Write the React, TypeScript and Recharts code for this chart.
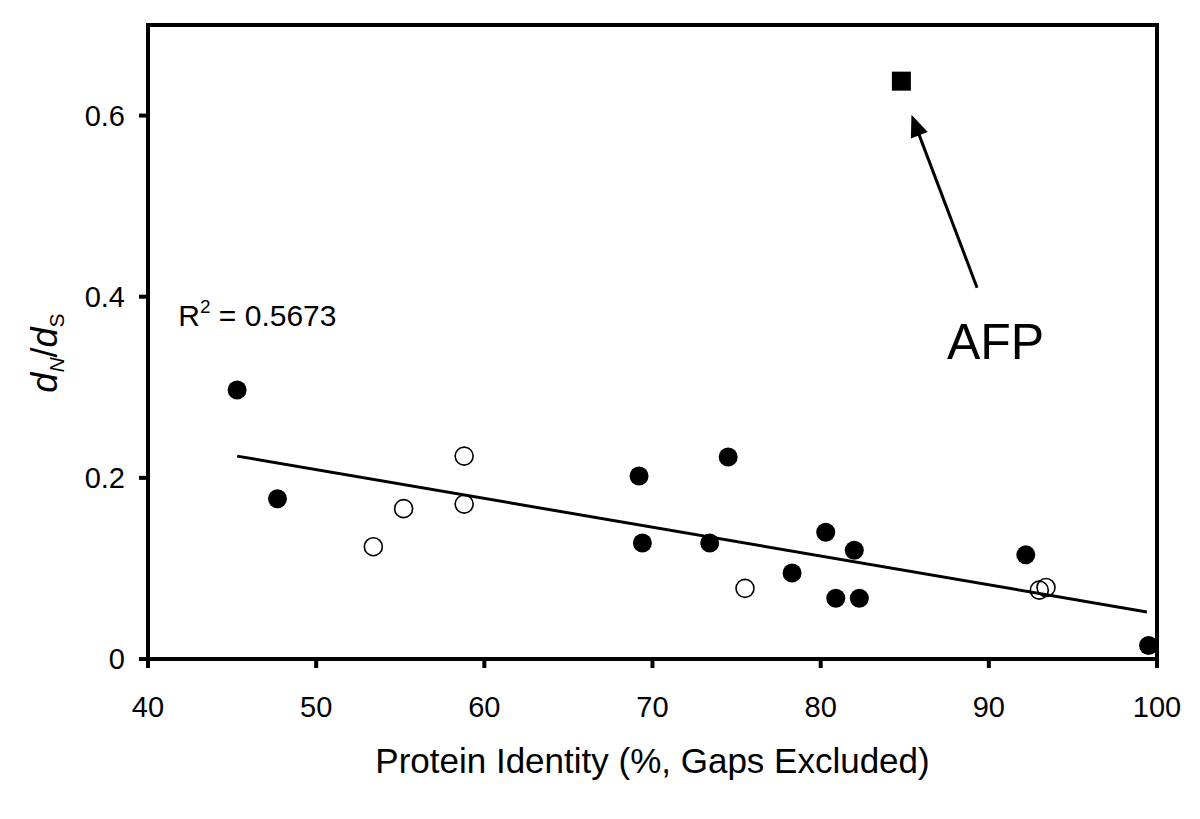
import React from 'react';
import { ScatterChart, Scatter, XAxis, YAxis, ReferenceArea, ReferenceLine, ReferenceDot } from 'recharts';

const FONT = '"Liberation Sans", Arial, Helvetica, sans-serif';

// Filled circles (protein identity %, dN/dS)
const filledX = [45.3, 47.7, 69.2, 69.4, 73.4, 74.5, 78.3, 80.3, 80.9, 82.0, 82.3, 92.2, 99.5];
const filledY = [0.297, 0.177, 0.202, 0.128, 0.128, 0.223, 0.095, 0.140, 0.067, 0.120, 0.067, 0.115, 0.015];
// Open circles
const openX = [53.4, 55.2, 58.8, 58.8, 75.5, 93.0, 93.4];
const openY = [0.124, 0.166, 0.224, 0.171, 0.078, 0.076, 0.079];
// AFP (square)
const afpX = [84.8];
const afpY = [0.638];
// Regression line end points
const trendX = [45.3, 99.4];
const trendY = [0.224, 0.052];
// Arrow from label to AFP point
const arrowFrom = { x: 89.3, y: 0.41 };
const arrowTo = { x: 85.4, y: 0.601 };
const afpLabelPos = { x: 90.4, y: 0.35 };
const r2LabelPos = { x: 41.8, y: 0.38 };

const xTicks = [40, 50, 60, 70, 80, 90, 100];
const yTicks = [0, 0.2, 0.4, 0.6];

const zip = (xs: number[], ys: number[]) => xs.map((x, i) => ({ x, y: ys[i] }));
const filled = zip(filledX, filledY);
const open = zip(openX, openY);
const afp = zip(afpX, afpY);
const trend = zip(trendX, trendY);

const FilledDot = (p: any) => <circle cx={p.cx} cy={p.cy} r={9.5} fill="#000" />;
const OpenDot = (p: any) => <circle cx={p.cx} cy={p.cy} r={9} fill="none" stroke="#000" strokeWidth={1.6} />;
const SquareDot = (p: any) => <rect x={p.cx - 9.5} y={p.cy - 9.5} width={19} height={19} fill="#000" />;
const NoDot = () => <g />;

const ArrowShape = (p: any) => {
  const { x1, y1, x2, y2 } = p;
  const dx = x2 - x1, dy = y2 - y1;
  const len = Math.sqrt(dx * dx + dy * dy);
  const ux = dx / len, uy = dy / len;
  const hl = 22, hw = 9;
  const bx = x2 - ux * hl, by = y2 - uy * hl;
  const pts = `${x2},${y2} ${bx - uy * hw},${by + ux * hw} ${bx + uy * hw},${by - ux * hw}`;
  return (
    <g>
      <line x1={x1} y1={y1} x2={bx + ux * 2} y2={by + uy * 2} stroke="#000" strokeWidth={3} />
      <polygon points={pts} fill="#000" />
    </g>
  );
};

const AfpText = (p: any) => (
  <text x={p.cx} y={p.cy} textAnchor="middle" dominantBaseline="central" fontSize={50} fontFamily={FONT} fill="#000">AFP</text>
);

const R2Text = (p: any) => (
  <text x={p.cx} y={p.cy + 11} textAnchor="start" fontSize={30} fontFamily={FONT} fill="#000">
    R<tspan fontSize={19} dy={-13}>2</tspan><tspan dy={13}> = 0.5673</tspan>
  </text>
);

const YLabel = (props: any) => {
  const vb = props.viewBox || { x: 40, y: 17, width: 100, height: 634 };
  const cx = vb.x + 9;
  const cy = vb.y + vb.height / 2 + 11;
  return (
    <text x={cx} y={cy} transform={`rotate(-90, ${cx}, ${cy})`} textAnchor="middle" fontSize={36} fontFamily={FONT} fill="#000">
      <tspan fontStyle="italic">d</tspan>
      <tspan fontSize={21} fontStyle="italic" dy={7}>N</tspan>
      <tspan dy={-7}>/</tspan>
      <tspan fontStyle="italic">d</tspan>
      <tspan fontSize={21} dy={7}>S</tspan>
    </text>
  );
};

export default function App() {
  return (
    <div style={{ width: 1200, height: 811 }}>
      <ScatterChart width={1200} height={811} margin={{ top: 17, right: 51, bottom: 30, left: 40 }}>
        <XAxis
          type="number"
          dataKey="x"
          domain={[40, 100]}
          ticks={xTicks}
          allowDataOverflow
          height={130}
          tickSize={9}
          tickMargin={28}
          axisLine={{ stroke: '#000', strokeWidth: 4 }}
          tickLine={{ stroke: '#000', strokeWidth: 4 }}
          tick={{ fill: '#000', fontSize: 29, fontFamily: FONT }}
          label={{ value: 'Protein Identity (%, Gaps Excluded)', position: 'insideBottom', offset: 16, fill: '#000', fontSize: 35, fontFamily: FONT }}
        />
        <YAxis
          type="number"
          dataKey="y"
          domain={[0, 0.7]}
          ticks={yTicks}
          allowDataOverflow
          width={100}
          tickSize={9}
          tickMargin={14}
          tickFormatter={(v: number) => (v === 0 ? '0' : String(v))}
          axisLine={{ stroke: '#000', strokeWidth: 4 }}
          tickLine={{ stroke: '#000', strokeWidth: 4 }}
          tick={{ fill: '#000', fontSize: 29, fontFamily: FONT }}
          label={{ content: YLabel }}
        />
        <ReferenceArea x1={40} x2={100} y1={0} y2={0.7} fill="none" stroke="#000" strokeWidth={4} ifOverflow="visible" />
        <Scatter data={open} shape={OpenDot} isAnimationActive={false} />
        <Scatter data={filled} shape={FilledDot} isAnimationActive={false} />
        <Scatter data={afp} shape={SquareDot} isAnimationActive={false} />
        <Scatter data={trend} shape={NoDot} line={{ stroke: '#000', strokeWidth: 3 }} isAnimationActive={false} />
        <ReferenceLine segment={[arrowFrom, arrowTo]} shape={ArrowShape} ifOverflow="visible" />
        <ReferenceDot x={afpLabelPos.x} y={afpLabelPos.y} r={1} shape={AfpText} ifOverflow="visible" />
        <ReferenceDot x={r2LabelPos.x} y={r2LabelPos.y} r={1} shape={R2Text} ifOverflow="visible" />
      </ScatterChart>
    </div>
  );
}
